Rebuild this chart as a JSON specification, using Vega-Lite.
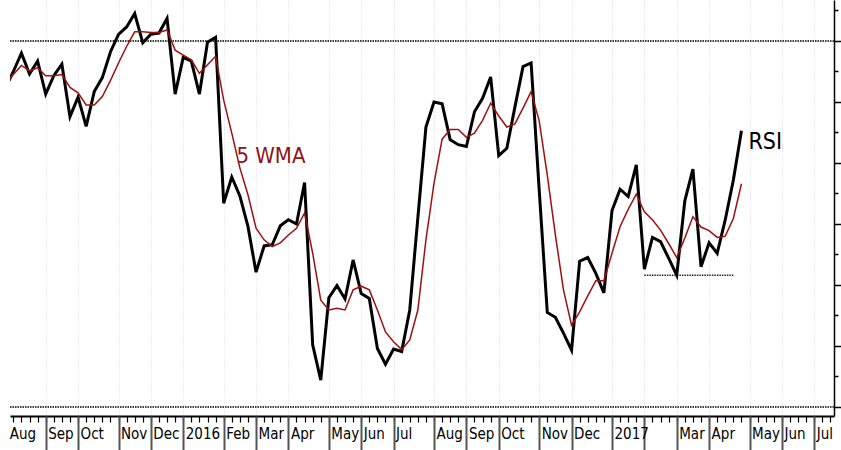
{
  "$schema": "https://vega.github.io/schema/vega-lite/v6.json",
  "width": 824,
  "height": 416,
  "autosize": {"type": "none"},
  "padding": {"left": 10, "top": 0, "right": 7, "bottom": 34},
  "background": "white",
  "config": {"view": {"stroke": null}},
  "resolve": {"axis": {"x": "independent", "y": "independent"}},
  "datasets": {
    "weekly": [
      {"date": "2015-07-31", "rsi": 72.2, "wma": 73.0},
      {"date": "2015-08-07", "rsi": 75.0, "wma": 74.5},
      {"date": "2015-08-14", "rsi": 78.0, "wma": 76.0},
      {"date": "2015-08-21", "rsi": 74.6, "wma": 75.1},
      {"date": "2015-08-28", "rsi": 76.7, "wma": 75.6},
      {"date": "2015-09-04", "rsi": 71.3, "wma": 74.3},
      {"date": "2015-09-11", "rsi": 74.3, "wma": 74.3},
      {"date": "2015-09-18", "rsi": 76.2, "wma": 74.5},
      {"date": "2015-09-25", "rsi": 67.6, "wma": 72.4},
      {"date": "2015-10-02", "rsi": 70.8, "wma": 71.5},
      {"date": "2015-10-09", "rsi": 66.0, "wma": 69.5},
      {"date": "2015-10-16", "rsi": 71.7, "wma": 69.5},
      {"date": "2015-10-23", "rsi": 74.0, "wma": 70.9},
      {"date": "2015-10-30", "rsi": 78.2, "wma": 73.5},
      {"date": "2015-11-06", "rsi": 81.1, "wma": 76.4},
      {"date": "2015-11-13", "rsi": 82.3, "wma": 79.1},
      {"date": "2015-11-20", "rsi": 84.5, "wma": 81.5},
      {"date": "2015-11-27", "rsi": 79.7, "wma": 81.5},
      {"date": "2015-12-04", "rsi": 81.1, "wma": 81.4},
      {"date": "2015-12-11", "rsi": 81.3, "wma": 81.4},
      {"date": "2015-12-18", "rsi": 83.7, "wma": 81.8},
      {"date": "2015-12-25", "rsi": 71.3, "wma": 78.5},
      {"date": "2016-01-01", "rsi": 77.3, "wma": 77.7},
      {"date": "2016-01-08", "rsi": 76.7, "wma": 76.9},
      {"date": "2016-01-15", "rsi": 71.3, "wma": 74.7},
      {"date": "2016-01-22", "rsi": 79.8, "wma": 76.1},
      {"date": "2016-01-29", "rsi": 80.6, "wma": 77.5},
      {"date": "2016-02-05", "rsi": 53.4, "wma": 70.3},
      {"date": "2016-02-12", "rsi": 57.7, "wma": 64.9},
      {"date": "2016-02-19", "rsi": 54.6, "wma": 59.2},
      {"date": "2016-02-26", "rsi": 49.6, "wma": 54.8},
      {"date": "2016-03-04", "rsi": 42.1, "wma": 49.3},
      {"date": "2016-03-11", "rsi": 46.4, "wma": 47.4},
      {"date": "2016-03-18", "rsi": 46.6, "wma": 46.3},
      {"date": "2016-03-25", "rsi": 49.7, "wma": 46.9},
      {"date": "2016-04-01", "rsi": 50.7, "wma": 48.2},
      {"date": "2016-04-08", "rsi": 50.0, "wma": 49.3},
      {"date": "2016-04-15", "rsi": 56.8, "wma": 51.8},
      {"date": "2016-04-22", "rsi": 30.2, "wma": 45.2},
      {"date": "2016-04-29", "rsi": 24.4, "wma": 37.5},
      {"date": "2016-05-06", "rsi": 37.9, "wma": 35.9},
      {"date": "2016-05-13", "rsi": 39.9, "wma": 36.2},
      {"date": "2016-05-20", "rsi": 37.7, "wma": 35.9},
      {"date": "2016-05-27", "rsi": 44.1, "wma": 39.2},
      {"date": "2016-06-03", "rsi": 38.6, "wma": 39.8},
      {"date": "2016-06-10", "rsi": 37.8, "wma": 39.2},
      {"date": "2016-06-17", "rsi": 29.6, "wma": 35.9},
      {"date": "2016-06-24", "rsi": 27.0, "wma": 32.3},
      {"date": "2016-07-01", "rsi": 29.5, "wma": 30.7},
      {"date": "2016-07-08", "rsi": 29.1, "wma": 29.4},
      {"date": "2016-07-15", "rsi": 35.9, "wma": 31.0},
      {"date": "2016-07-22", "rsi": 51.0, "wma": 35.9},
      {"date": "2016-07-29", "rsi": 65.9, "wma": 47.4},
      {"date": "2016-08-05", "rsi": 70.0, "wma": 56.7},
      {"date": "2016-08-12", "rsi": 69.7, "wma": 63.9},
      {"date": "2016-08-19", "rsi": 63.8, "wma": 65.5},
      {"date": "2016-08-26", "rsi": 63.0, "wma": 65.5},
      {"date": "2016-09-02", "rsi": 62.7, "wma": 64.2},
      {"date": "2016-09-09", "rsi": 68.4, "wma": 64.9},
      {"date": "2016-09-16", "rsi": 70.6, "wma": 67.0},
      {"date": "2016-09-23", "rsi": 74.1, "wma": 69.8},
      {"date": "2016-09-30", "rsi": 61.2, "wma": 67.7},
      {"date": "2016-10-07", "rsi": 62.4, "wma": 65.9},
      {"date": "2016-10-14", "rsi": 69.2, "wma": 66.4},
      {"date": "2016-10-21", "rsi": 75.8, "wma": 69.0},
      {"date": "2016-10-28", "rsi": 76.4, "wma": 71.7},
      {"date": "2016-11-04", "rsi": 55.6, "wma": 66.9},
      {"date": "2016-11-11", "rsi": 35.5, "wma": 58.0},
      {"date": "2016-11-18", "rsi": 34.7, "wma": 48.2},
      {"date": "2016-11-25", "rsi": 32.1, "wma": 39.2},
      {"date": "2016-12-02", "rsi": 29.3, "wma": 33.4},
      {"date": "2016-12-09", "rsi": 43.9, "wma": 35.6},
      {"date": "2016-12-16", "rsi": 44.5, "wma": 38.2},
      {"date": "2016-12-23", "rsi": 41.9, "wma": 40.7},
      {"date": "2016-12-30", "rsi": 38.7, "wma": 40.7},
      {"date": "2017-01-06", "rsi": 52.2, "wma": 45.2},
      {"date": "2017-01-13", "rsi": 55.7, "wma": 49.6},
      {"date": "2017-01-20", "rsi": 54.5, "wma": 52.4},
      {"date": "2017-01-27", "rsi": 59.7, "wma": 54.9},
      {"date": "2017-02-03", "rsi": 42.6, "wma": 52.0},
      {"date": "2017-02-10", "rsi": 47.8, "wma": 50.7},
      {"date": "2017-02-17", "rsi": 47.1, "wma": 49.0},
      {"date": "2017-02-24", "rsi": 44.4, "wma": 46.8},
      {"date": "2017-03-03", "rsi": 41.6, "wma": 44.5},
      {"date": "2017-03-10", "rsi": 53.8, "wma": 47.7},
      {"date": "2017-03-17", "rsi": 59.0, "wma": 51.2},
      {"date": "2017-03-24", "rsi": 43.0, "wma": 49.5},
      {"date": "2017-03-31", "rsi": 46.9, "wma": 48.9},
      {"date": "2017-04-07", "rsi": 45.2, "wma": 47.8},
      {"date": "2017-04-14", "rsi": 50.7, "wma": 48.0},
      {"date": "2017-04-21", "rsi": 57.2, "wma": 50.9},
      {"date": "2017-04-28", "rsi": 65.3, "wma": 56.6}
    ],
    "levels": [{"level": 80}, {"level": 20}],
    "support": [{"start": "2017-02-03", "end": "2017-04-21", "level": 41.6}],
    "labels": [
      {"label": "5 WMA", "date": "2016-02-16", "value": 61.2},
      {"label": "RSI", "date": "2017-05-04", "value": 63.4}
    ]
  },
  "layer": [
    {
      "data": {"name": "levels"},
      "mark": {"type": "rule", "color": "#3a3a3a", "strokeWidth": 2, "strokeDash": [1.5, 1]},
      "encoding": {
        "y": {"field": "level", "type": "quantitative", "scale": {"domain": [18.52, 86.72], "nice": false, "zero": false}, "axis": null}
      }
    },
    {
      "data": {"name": "weekly"},
      "mark": {"type": "line", "color": "black", "strokeWidth": 3, "clip": true},
      "encoding": {
        "x": {
          "field": "date", "type": "temporal",
          "scale": {"type": "utc", "domain": [1438655817600, 1500256512000]},
          "axis": {
            "orient": "bottom",
            "title": null,
            "values": [1438905600000, 1439510400000, 1440115200000, 1440720000000, 1441324800000, 1441929600000, 1442534400000, 1443139200000, 1443744000000, 1444348800000, 1444953600000, 1445558400000, 1446163200000, 1446768000000, 1447372800000, 1447977600000, 1448582400000, 1449187200000, 1449792000000, 1450396800000, 1451001600000, 1451606400000, 1452211200000, 1452816000000, 1453420800000, 1454025600000, 1454630400000, 1455235200000, 1455840000000, 1456444800000, 1457049600000, 1457654400000, 1458259200000, 1458864000000, 1459468800000, 1460073600000, 1460678400000, 1461283200000, 1461888000000, 1462492800000, 1463097600000, 1463702400000, 1464307200000, 1464912000000, 1465516800000, 1466121600000, 1466726400000, 1467331200000, 1467936000000, 1468540800000, 1469145600000, 1469750400000, 1470355200000, 1470960000000, 1471564800000, 1472169600000, 1472774400000, 1473379200000, 1473984000000, 1474588800000, 1475193600000, 1475798400000, 1476403200000, 1477008000000, 1477612800000, 1478217600000, 1478822400000, 1479427200000, 1480032000000, 1480636800000, 1481241600000, 1481846400000, 1482451200000, 1483056000000, 1483660800000, 1484265600000, 1484870400000, 1485475200000, 1486080000000, 1486684800000, 1487289600000, 1487894400000, 1488499200000, 1489104000000, 1489708800000, 1490313600000, 1490918400000, 1491523200000, 1492128000000, 1492732800000, 1493337600000, 1493942400000, 1494547200000, 1495152000000, 1495756800000, 1496361600000, 1496966400000, 1497571200000, 1498176000000, 1498780800000, 1499385600000, 1499990400000],
            "domain": true, "domainColor": "black", "domainWidth": 2,
            "ticks": true, "tickColor": "black", "tickWidth": 1.2, "tickSize": 6,
            "labelExpr": "time(datum.value) == 1438905600000 ? 'Aug' : ''",
            "labelPadding": 4, "labelAlign": "left", "labelBaseline": "top", "labelOffset": -4,
            "labelFont": "DejaVu Sans Condensed, Liberation Sans, sans-serif", "labelFontSize": 15, "labelColor": "black",
            "labelOverlap": false, "labelFlush": false, "labelBound": false,
            "grid": false
          }
        },
        "y": {
          "field": "rsi", "type": "quantitative",
          "scale": {"domain": [18.52, 86.72], "nice": false, "zero": false},
          "axis": {
            "orient": "right", "title": null, "labels": false, "grid": false,
            "values": [25, 35, 45, 55, 65, 75, 85],
            "domain": true, "domainColor": "black", "domainWidth": 1.5,
            "tickColor": "black", "tickWidth": 1.5, "tickSize": 4
          }
        }
      }
    },
    {
      "data": {"name": "weekly"},
      "mark": {"type": "line", "color": "#9e1010", "strokeWidth": 1.5, "clip": true},
      "encoding": {
        "x": {
          "field": "date", "type": "temporal",
          "scale": {"type": "utc", "domain": [1438655817600, 1500256512000]},
          "axis": {
            "orient": "bottom",
            "title": null,
            "values": [1441324800000, 1443744000000, 1446768000000, 1449187200000, 1451606400000, 1454630400000, 1457049600000, 1459468800000, 1462492800000, 1464912000000, 1467331200000, 1470355200000, 1472774400000, 1475193600000, 1478217600000, 1480636800000, 1483660800000, 1486080000000, 1488499200000, 1490918400000, 1493942400000, 1496361600000, 1498780800000],
            "domain": false,
            "ticks": true, "tickColor": "#555555", "tickWidth": 2, "tickSize": 34,
            "labelExpr": "time(datum.value) == 1486080000000 ? '' : (utcmonth(time(datum.value) + 259200000) == 0 ? '' + utcyear(time(datum.value) + 259200000) : ['Jan','Feb','Mar','Apr','May','Jun','Jul','Aug','Sep','Oct','Nov','Dec'][utcmonth(time(datum.value) + 259200000)])",
            "labelPadding": -24, "labelAlign": "left", "labelBaseline": "top", "labelOffset": 2,
            "labelFont": "DejaVu Sans Condensed, Liberation Sans, sans-serif", "labelFontSize": 15, "labelColor": "black",
            "labelOverlap": false, "labelFlush": false, "labelBound": false,
            "grid": true, "gridColor": "#d4d4f2", "gridDash": [1, 2], "gridWidth": 1
          }
        },
        "y": {
          "field": "wma", "type": "quantitative",
          "scale": {"domain": [18.52, 86.72], "nice": false, "zero": false},
          "axis": {
            "orient": "right", "title": null, "labels": false, "grid": false,
            "values": [20, 30, 40, 50, 60, 70, 80],
            "domain": false,
            "tickColor": "black", "tickWidth": 1.5, "tickSize": 7
          }
        }
      }
    },
    {
      "data": {"name": "support"},
      "mark": {"type": "rule", "color": "#222222", "strokeWidth": 1.5, "strokeDash": [1.5, 1]},
      "encoding": {
        "x": {"field": "start", "type": "temporal", "scale": {"type": "utc", "domain": [1438655817600, 1500256512000]}, "axis": null},
        "x2": {"field": "end"},
        "y": {"field": "level", "type": "quantitative", "scale": {"domain": [18.52, 86.72], "nice": false, "zero": false}, "axis": null}
      }
    },
    {
      "data": {"name": "labels"},
      "transform": [{"filter": "datum.label == '5 WMA'"}],
      "mark": {"type": "text", "align": "left", "baseline": "middle", "font": "DejaVu Sans Condensed, Liberation Sans, sans-serif", "fontSize": 22, "color": "#8e1414"},
      "encoding": {
        "x": {"field": "date", "type": "temporal", "scale": {"type": "utc", "domain": [1438655817600, 1500256512000]}, "axis": null},
        "y": {"field": "value", "type": "quantitative", "scale": {"domain": [18.52, 86.72], "nice": false, "zero": false}, "axis": null},
        "text": {"field": "label"}
      }
    },
    {
      "data": {"name": "labels"},
      "transform": [{"filter": "datum.label == 'RSI'"}],
      "mark": {"type": "text", "align": "left", "baseline": "middle", "font": "DejaVu Sans Condensed, Liberation Sans, sans-serif", "fontSize": 23, "color": "black"},
      "encoding": {
        "x": {"field": "date", "type": "temporal", "scale": {"type": "utc", "domain": [1438655817600, 1500256512000]}, "axis": null},
        "y": {"field": "value", "type": "quantitative", "scale": {"domain": [18.52, 86.72], "nice": false, "zero": false}, "axis": null},
        "text": {"field": "label"}
      }
    }
  ]
}
